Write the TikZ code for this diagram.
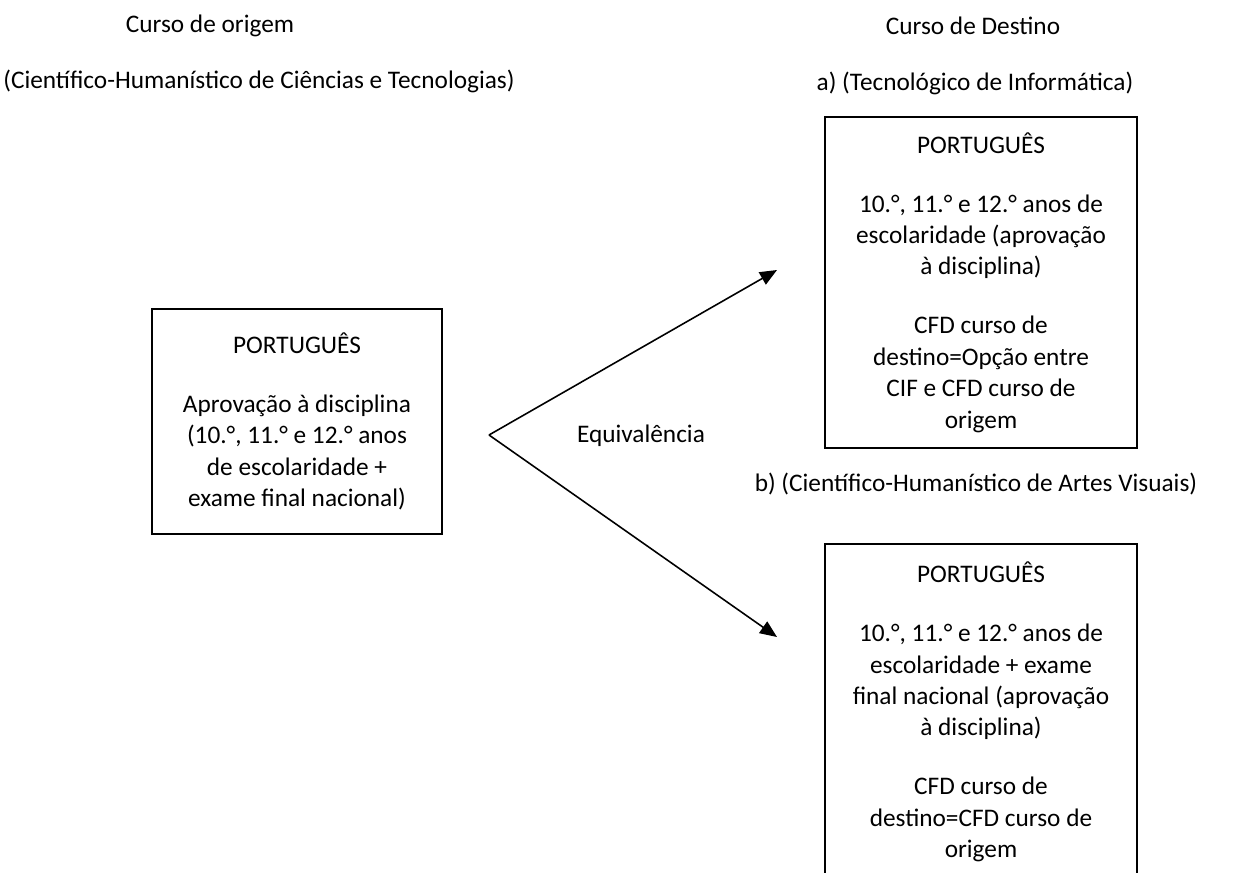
\documentclass[tikz,border=0pt]{standalone}
\usepackage{fontspec}
\usepackage{tikz}
\usetikzlibrary{arrows.meta}
\setmainfont{Carlito}

\tikzset{
  label/.style={font={\fontsize{14.4}{17.9}\selectfont}, inner sep=0pt},
  coursebox/.style={draw, line width=0.9pt, align=center, inner sep=0pt,
    font={\fontsize{14.4}{17.9}\selectfont}},
  flow/.style={line width=0.9pt, -{Triangle[length=0.34cm, width=0.28cm]}}
}

\begin{document}
\begin{tikzpicture}[x=0.02cm, y=-0.02cm]
        \clip (0,0) rectangle (1252,873);

        % Headings
        \node[label] (origem) at (210,26) {Curso de origem};
        \node[label] (origemcurso) at (259,81) {(Científico-Humanístico de Ciências e Tecnologias)};
        \node[label] (destino) at (973,26) {Curso de Destino};
        \node[label] (destinoa) at (975,83) {a) (Tecnológico de Informática)};
        \node[label] (destinob) at (976,484) {b) (Científico-Humanístico de Artes Visuais)};

        % Boxes
        \node[coursebox, minimum width=5.8cm, minimum height=4.5cm] (boxorigem) at (297,421.5)
            {PORTUGUÊS\\[0.55cm]
             Aprovação à disciplina\\
             (10.°, 11.° e 12.° anos\\
             de escolaridade +\\
             exame final nacional)};
        \node[coursebox, minimum width=6.24cm, minimum height=6.62cm] (boxa) at (981,282.5)
            {PORTUGUÊS\\[0.55cm]
             10.°, 11.° e 12.° anos de\\
             escolaridade (aprovação\\
             à disciplina)\\[0.55cm]
             CFD curso de\\
             destino=Opção entre\\
             CIF e CFD curso de\\
             origem};
        \node[coursebox, minimum width=6.24cm, minimum height=6.72cm] (boxb) at (981,712)
            {PORTUGUÊS\\[0.55cm]
             10.°, 11.° e 12.° anos de\\
             escolaridade + exame\\
             final nacional (aprovação\\
             à disciplina)\\[0.55cm]
             CFD curso de\\
             destino=CFD curso de\\
             origem};

        % Equivalence arrows
        \coordinate (fork) at (489,435);
        \coordinate (tipa) at (777,270);
        \coordinate (tipb) at (777,637);
        \draw[flow] (fork) -- (tipa);
        \draw[flow] (fork) -- (tipb);
        \node[label] (equiv) at (641,436) {Equivalência};

\end{tikzpicture}
\end{document}
